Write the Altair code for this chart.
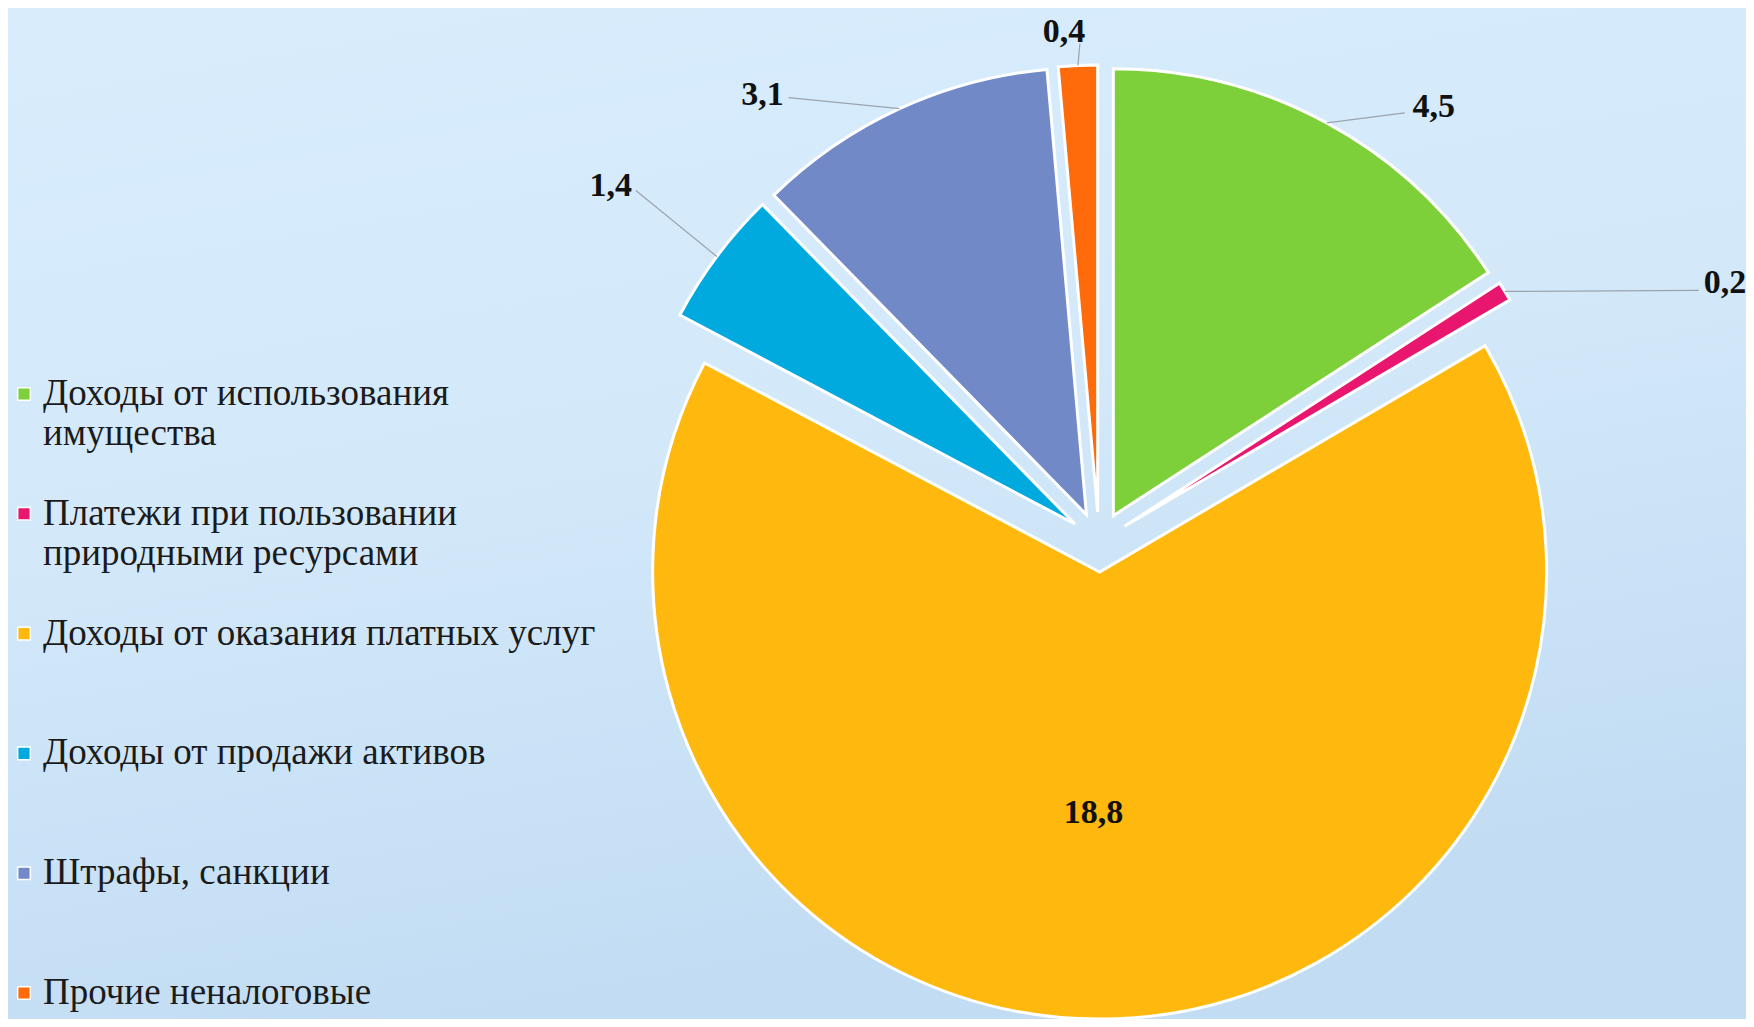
import altair as alt
import pandas as pd

# ---- data (clockwise from 12 o'clock) ----
categories = [
    "Доходы от использования имущества",
    "Платежи при пользовании природными ресурсами",
    "Доходы от оказания платных услуг",
    "Доходы от продажи активов",
    "Штрафы, санкции",
    "Прочие неналоговые доходы",
]
values = [4.5, 0.2, 18.8, 1.4, 3.1, 0.4]
legend_text = [
    "Доходы от использования\nимущества",
    "Платежи при пользовании\nприродными ресурсами",
    "Доходы от оказания платных услуг",
    "Доходы от продажи активов",
    "Штрафы, санкции",
    "Прочие неналоговые",
]

# ---- style / layout ----
colors = ["#7ED03B", "#E8166E", "#FFB80E", "#00A9DE", "#7189C7", "#FF6A0A"]
W, H = 1738, 1011
CX, CY, R, D = 1091, 534, 447, 30
# label offsets relative to each slice's outer-arc midpoint
lab_dx = [107, 220, -16, -106, -137, -14]
lab_dy = [-16, -8, -206, -71, -14, -33]
# leader-line end offsets relative to the outer-arc midpoint
end_dx = [78, 194, 0, -81, -111, 2]
end_dy = [-10, -1, 0, -66, -11, -22]
has_line = [1, 1, 0, 1, 1, 1]
LEG_Y0, LEG_STEP = 386, 119.8

df = pd.DataFrame({
    "idx": list(range(len(categories))),
    "cat": categories,
    "value": values,
    "leg": legend_text,
    "ldx": lab_dx, "ldy": lab_dy,
    "edx": end_dx, "edy": end_dy,
    "line": has_line,
})

color_scale = alt.Scale(domain=categories, range=colors)

base = alt.Chart(df).transform_window(
    cum="sum(value)", sort=[alt.SortField("idx")], frame=[None, 0]
).transform_joinaggregate(
    total="sum(value)"
).transform_calculate(
    a0="(datum.cum - datum.value) / datum.total * 2 * PI",
    a1="datum.cum / datum.total * 2 * PI",
).transform_calculate(
    mid="(datum.a0 + datum.a1) / 2",
).transform_calculate(
    cx=f"{CX} + {D} * sin(datum.mid)",
    cy=f"{CY} - {D} * cos(datum.mid)",
).transform_calculate(
    ax=f"datum.cx + {R} * sin(datum.mid)",
    ay=f"datum.cy - {R} * cos(datum.mid)",
).transform_calculate(
    lx="datum.ax + datum.ldx",
    ly="datum.ay + datum.ldy",
    ex="datum.ax + datum.edx",
    ey="datum.ay + datum.edy",
    label="replace(format(datum.value, '.1f'), '.', ',')",
)

bg = alt.Chart(pd.DataFrame({"a": [0]})).mark_rect(
    color=alt.LinearGradient(
        gradient="linear",
        stops=[alt.GradientStop(color="#d8ecfc", offset=0),
               alt.GradientStop(color="#d3e9fa", offset=0.5),
               alt.GradientStop(color="#c2dcf3", offset=1)],
        x1=0, x2=0.3, y1=0, y2=1,
    )
).encode(x=alt.value(0), x2=alt.value(W), y=alt.value(0), y2=alt.value(H))

arcs = base.mark_arc(outerRadius=R, stroke="white", strokeWidth=3).encode(
    theta=alt.Theta("a0:Q", scale=None),
    theta2="a1:Q",
    x=alt.X("cx:Q", scale=None),
    y=alt.Y("cy:Q", scale=None),
    color=alt.Color("cat:N", scale=color_scale, legend=None),
)

lines = base.transform_filter("datum.line == 1").mark_rule(
    color="#9aa4ad", strokeWidth=1.2
).encode(
    x=alt.X("ax:Q", scale=None), y=alt.Y("ay:Q", scale=None),
    x2="ex:Q", y2="ey:Q",
)

labels = base.mark_text(
    font="Liberation Serif", fontSize=34, fontWeight="bold",
    color="#111111", align="center", baseline="middle",
).encode(
    x=alt.X("lx:Q", scale=None), y=alt.Y("ly:Q", scale=None), text="label:N",
)

leg_base = alt.Chart(df).transform_calculate(
    legy=f"{LEG_Y0} + datum.idx * {LEG_STEP}",
)
leg_sym = leg_base.mark_square(size=160, opacity=1, stroke="white", strokeWidth=1.5).encode(
    x=alt.value(16), y=alt.Y("legy:Q", scale=None),
    color=alt.Color("cat:N", scale=color_scale, legend=None),
)
leg_txt = leg_base.transform_calculate(
    legb="datum.legy + 11",
).mark_text(
    font="Liberation Serif", fontSize=37, lineHeight=40, align="left",
    baseline="alphabetic", lineBreak="\n", color="#1b1b1b",
).encode(
    x=alt.value(35), y=alt.Y("legb:Q", scale=None), text="leg:N",
)

chart = alt.layer(bg, arcs, lines, labels, leg_sym, leg_txt).properties(
    width=W, height=H,
    autosize=alt.AutoSizeParams(type="none"),
    padding=0,
    background="#d6ebfb",
).configure_view(stroke=None)

chart.save("out.html", embed_options={"renderer": "svg", "actions": False})
